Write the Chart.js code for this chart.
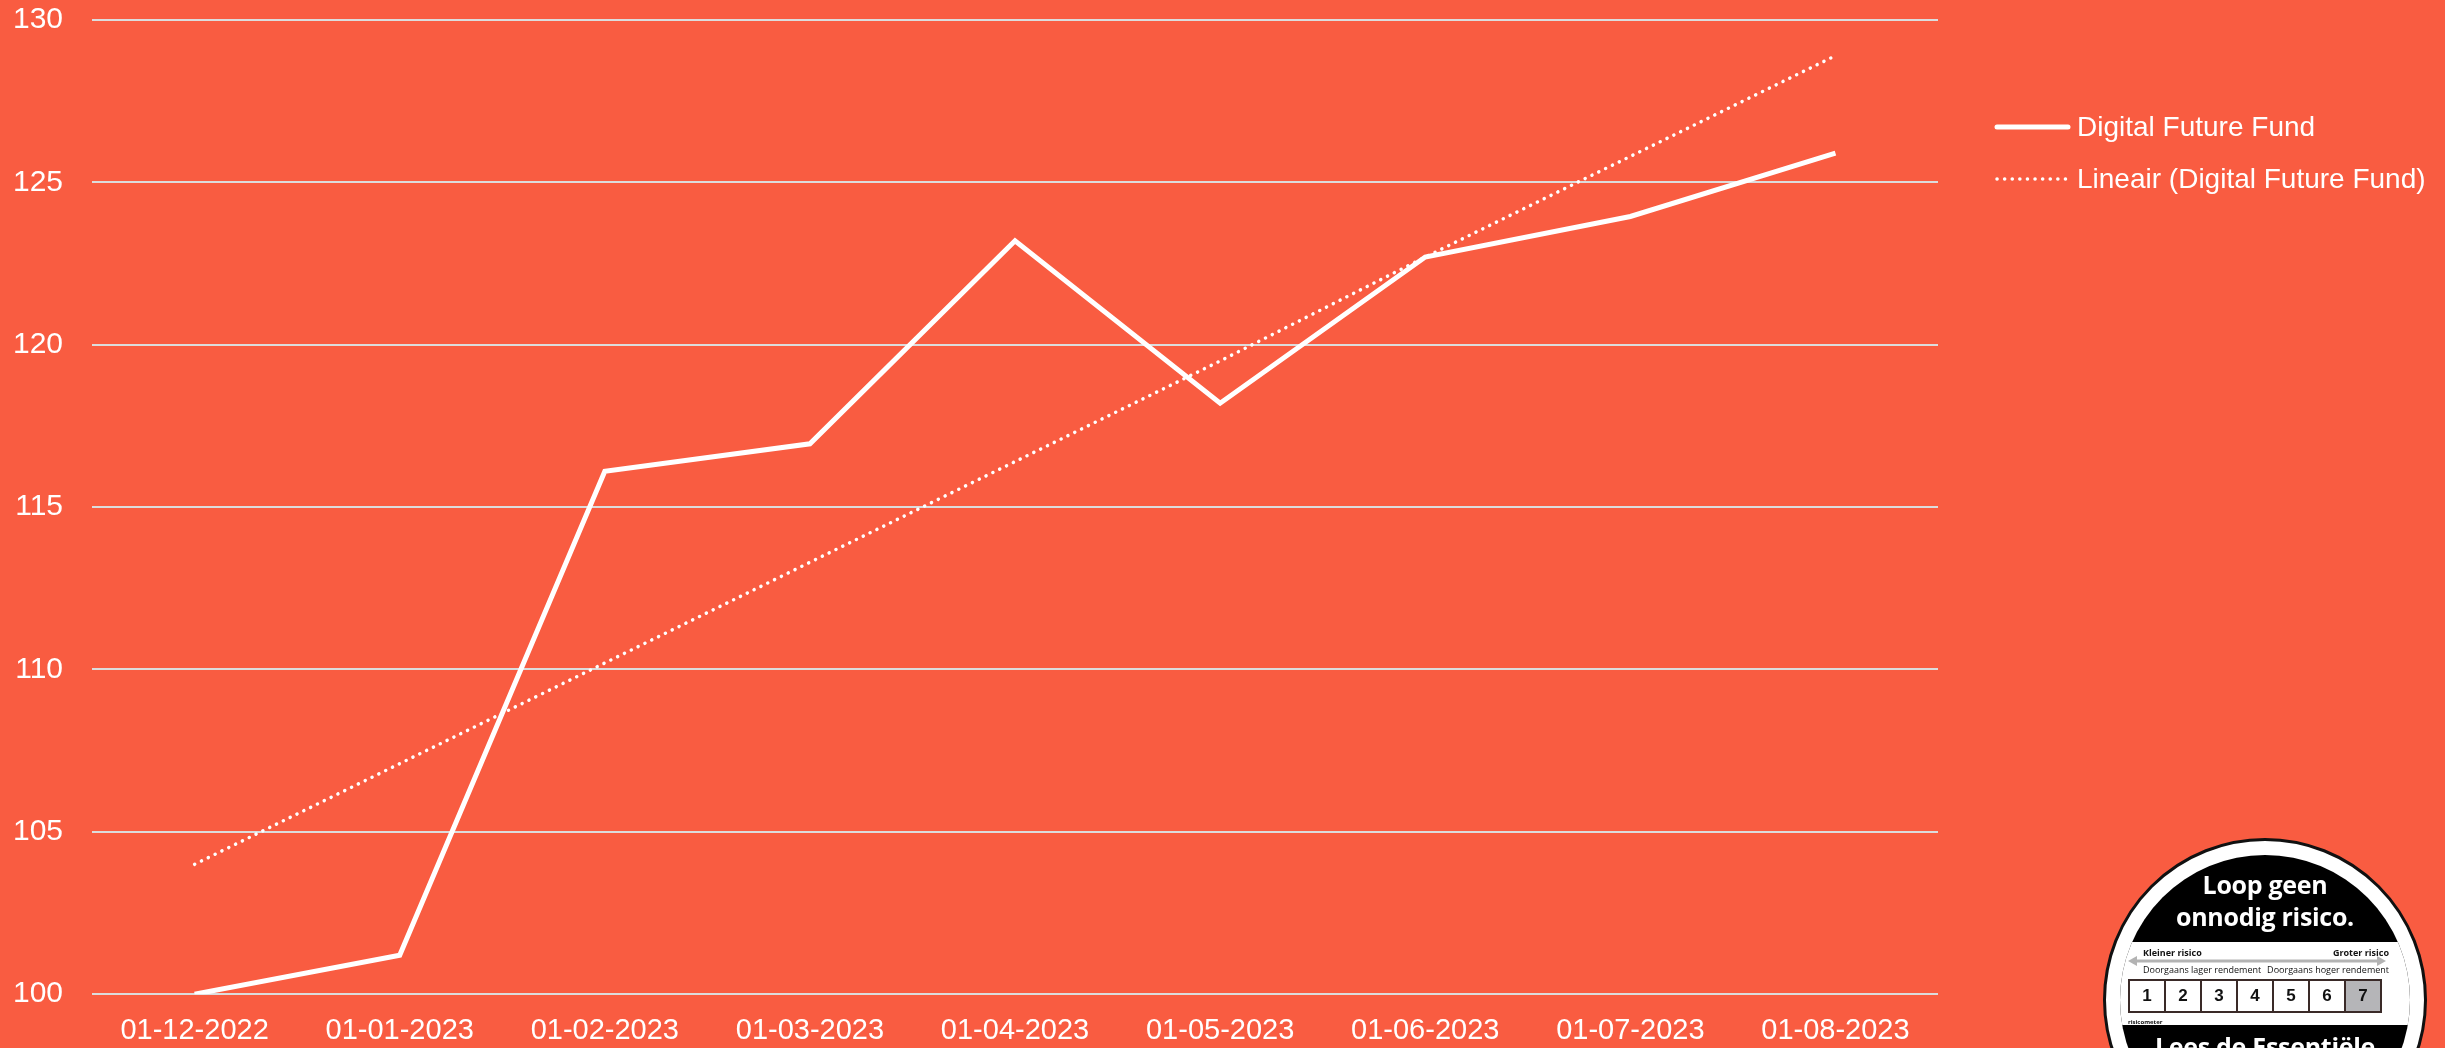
<!DOCTYPE html>
<html>
<head>
<meta charset="utf-8">
<script src="https://cdn.jsdelivr.net/npm/chart.js@4/dist/chart.umd.min.js"></script>
<style>
  body { margin: 0; background: #f95c41; overflow: hidden; }
  #wrap { position: relative; width: 2445px; height: 1048px; }
  #badge { position: absolute; left: 2103px; top: 838px; width: 324px; height: 324px;
           border-radius: 50%; background: #fff; border: 3px solid #111; box-sizing: border-box;
           font-family: "Open Sans", "Noto Sans", sans-serif; }
  #disc { position: absolute; left: 14px; top: 14px; width: 290px; height: 290px; border-radius: 50%;
          background: #000; overflow: hidden; }
  #band { position: absolute; left: 0; top: 87px; width: 290px; height: 83px; background: #fff; }
  .abs { position: absolute; white-space: nowrap; }
  .title { color: #fff; font-weight: 700; font-size: 25px; line-height: 32px; width: 318px; left: 0; text-align: center; letter-spacing: -0.3px; }
  .small { font-size: 9px; color: #111; line-height: 10px; }
  #cells { position: absolute; left: 22px; top: 138px; width: 254px; height: 34px; display: flex;
           border: 2px solid #3a2a28; box-sizing: border-box; }
  #cells div { flex: 1; border-right: 2px solid #3a2a28; text-align: center; font: bold 17px "Liberation Sans", Arial, sans-serif;
               line-height: 30px; color: #111; }
  #cells div:last-child { border-right: none; background: #b5b5b8; }
</style>
</head>
<body>
<div id="wrap">
  <canvas id="fundChart" width="2445" height="1048"></canvas>
  <div id="badge">
    <div id="disc"><div id="band"></div></div>
    <div class="abs title" style="top:27px">Loop geen<br>onnodig risico.</div>
    <svg class="abs" style="left:22px;top:115px" width="258" height="10">
      <line x1="6" y1="5" x2="252" y2="5" stroke="#b3b3b3" stroke-width="3"/>
      <polygon points="0,5 9,0 9,10" fill="#b3b3b3"/>
      <polygon points="258,5 249,0 249,10" fill="#b3b3b3"/>
    </svg>
    <div class="abs small" style="left:37px;top:107px;font-weight:700">Kleiner risico</div>
    <div class="abs small" style="right:35px;top:107px;font-weight:700">Groter risico</div>
    <div class="abs small" style="left:37px;top:124px">Doorgaans lager rendement</div>
    <div class="abs small" style="right:35px;top:124px">Doorgaans hoger rendement</div>
    <div id="cells"><div>1</div><div>2</div><div>3</div><div>4</div><div>5</div><div>6</div><div>7</div></div>
    <div class="abs small" style="left:22px;top:176px;font-size:6px;font-weight:700">risicometer</div>
    <div class="abs title" style="top:189px">Lees de Essentiële</div>
  </div>
</div>
<script>
// categories and values
var dates = ['01-12-2022', '01-01-2023', '01-02-2023', '01-03-2023', '01-04-2023',
             '01-05-2023', '01-06-2023', '01-07-2023', '01-08-2023'];
var fund = [100.0, 101.2, 116.1, 116.95, 123.2, 118.2, 122.7, 123.95, 125.9];
var trend = [104.0, 107.1, 110.2, 113.3, 116.4, 119.5, 122.7, 125.8, 128.9];
var yTicks = [100, 105, 110, 115, 120, 125, 130];

var fontName = '"Liberation Sans", Arial, sans-serif';

// legend drawn on the right, next to the plot
var sideLegend = {
  id: 'sideLegend',
  afterDraw: function(chart) {
    var ctx = chart.ctx;
    var x0 = chart.chartArea.right + 59;
    var rows = [127, 179];
    ctx.save();
    chart.data.datasets.forEach(function(ds, i) {
      var y = rows[i];
      ctx.beginPath();
      ctx.strokeStyle = ds.borderColor;
      ctx.lineWidth = ds.borderWidth;
      ctx.lineCap = 'round';
      ctx.setLineDash(ds.borderDash || []);
      ctx.moveTo(x0, y);
      ctx.lineTo(x0 + 71, y);
      ctx.stroke();
      ctx.setLineDash([]);
      ctx.fillStyle = '#ffffff';
      ctx.font = '28px ' + fontName;
      ctx.textBaseline = 'middle';
      ctx.fillText(ds.label, x0 + 80, y + 1);
    });
    ctx.restore();
  }
};

var ctx = document.getElementById('fundChart').getContext('2d');

var options = {
  responsive: false,
  maintainAspectRatio: false,
  animation: false,
  layout: { padding: { left: 13, right: 507, top: 20, bottom: 0 } },
  plugins: { legend: { display: false }, tooltip: { enabled: false } },
  scales: {
    x: {
      offset: true,
      grid: { display: false, tickLength: 19 },
      border: { display: false },
      ticks: { color: '#ffffff', font: { family: fontName, size: 29 }, padding: 0, maxRotation: 0, autoSkip: false }
    },
    y: {
      min: 100,
      max: 130,
      afterBuildTicks: function(axis) {
        axis.ticks = yTicks.map(function(v) { return { value: v }; });
      },
      grid: { color: '#dcdcdc', lineWidth: 2, drawTicks: true, tickLength: 29, tickColor: 'rgba(0,0,0,0)' },
      border: { display: false },
      ticks: { color: '#ffffff', font: { family: fontName, size: 30 }, padding: 0 }
    }
  }
};

var fundChart = new Chart(ctx, {
  type: 'line',
  data: {
    labels: dates,
    datasets: [{
      label: 'Digital Future Fund',
      data: fund,
      borderColor: '#ffffff',
      borderWidth: 5,
      pointRadius: 0,
      tension: 0
    }, {
      label: 'Lineair (Digital Future Fund)',
      data: trend,
      borderColor: '#ffffff',
      borderWidth: 3.5,
      borderDash: [0.1, 7.5],
      borderCapStyle: 'round',
      pointRadius: 0,
      tension: 0
    }]
  },
  options: options,
  plugins: [sideLegend]
});
</script>
</body>
</html>
